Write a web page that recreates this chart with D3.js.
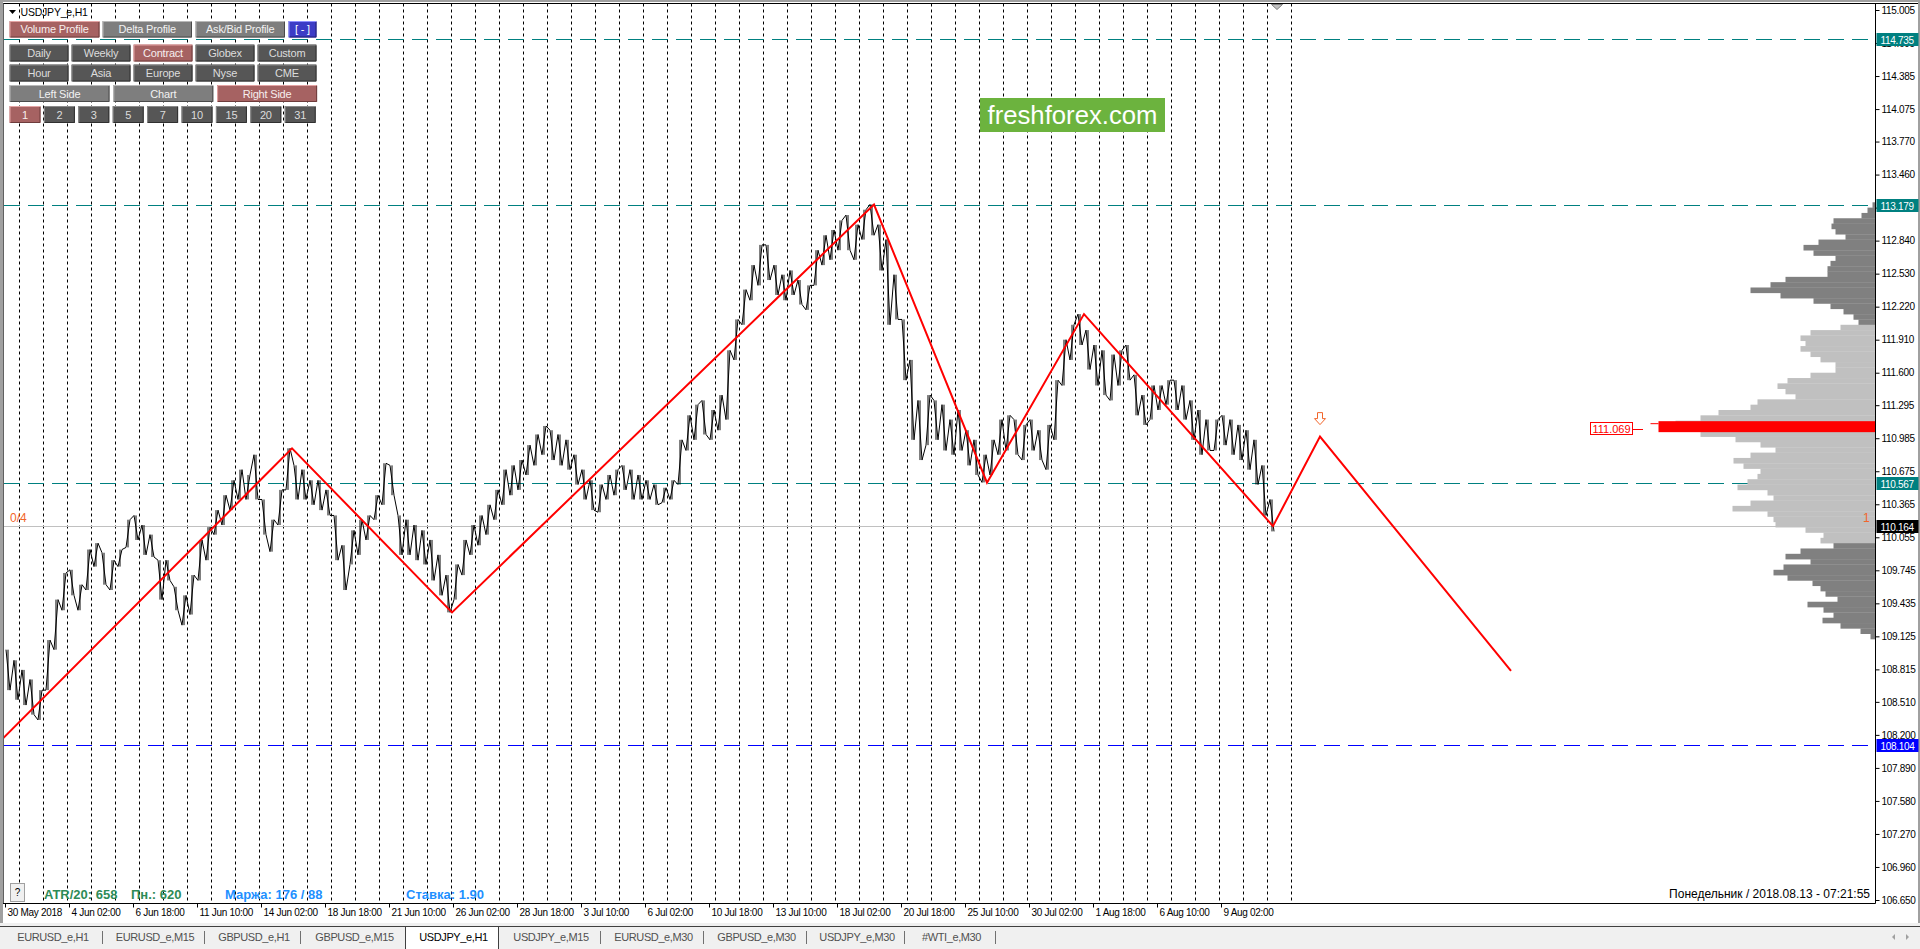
<!DOCTYPE html>
<html>
<head>
<meta charset="utf-8">
<script src="https://cdnjs.cloudflare.com/ajax/libs/d3/7.8.5/d3.min.js"></script>
<style>
html, body { margin: 0; padding: 0; background: #fff; overflow: hidden; }
svg { display: block; }
text { font-family: "Liberation Sans", Arial, sans-serif; }
</style>
</head>
<body>
<script>
// Donnees du graphique (USDJPY_e, H1)
var timeLabels = ['30 May 2018', '4 Jun 02:00', '6 Jun 18:00', '11 Jun 10:00', '14 Jun 02:00',
    '18 Jun 18:00', '21 Jun 10:00', '26 Jun 02:00', '28 Jun 18:00', '3 Jul 10:00',
    '6 Jul 02:00', '10 Jul 18:00', '13 Jul 10:00', '18 Jul 02:00', '20 Jul 18:00',
    '25 Jul 10:00', '30 Jul 02:00', '1 Aug 18:00', '6 Aug 10:00', '9 Aug 02:00']
var labelBars = [0, 64, 128, 192, 256, 320, 384, 448, 512, 576, 640, 704, 768, 832, 896, 960, 1024, 1088, 1152, 1216]

var priceTicks = [115.005, 114.695, 114.385, 114.075, 113.770, 113.460, 113.150, 112.840, 112.530,
    112.220, 111.910, 111.600, 111.295, 110.985, 110.675, 110.365, 110.055, 109.745, 109.435,
    109.125, 108.815, 108.510, 108.200, 107.890, 107.580, 107.270, 106.960, 106.650]

// hauts / bas par bloc de 8 barres H1
var blockSize = 8
var blockHighs = [
    109.00, 108.90, 108.81, 108.72, 108.62, 109.09, 109.47, 109.72, 109.75, 109.61,
    109.94, 110.00, 109.91, 109.84, 109.94, 110.22, 110.26, 110.17, 110.08, 109.84,
    109.84, 109.59, 109.51, 109.70, 110.03, 110.15, 110.31, 110.45, 110.59, 110.69,
    110.64, 110.83, 110.41, 110.22, 110.50, 110.89, 110.73, 110.69, 110.59, 110.59,
    110.50, 110.26, 109.98, 110.12, 110.22, 110.26, 110.45, 110.75, 110.73, 110.26,
    110.22, 110.17, 110.12, 110.03, 109.89, 109.70, 109.80, 110.03, 110.17, 110.26,
    110.36, 110.50, 110.69, 110.73, 110.78, 110.92, 111.02, 111.10, 111.06, 111.02,
    110.97, 110.83, 110.69, 110.59, 110.55, 110.64, 110.69, 110.73, 110.69, 110.64,
    110.59, 110.55, 110.52, 110.59, 110.97, 111.20, 111.30, 111.34, 111.25, 111.39,
    111.81, 112.10, 112.38, 112.61, 112.80, 112.80, 112.61, 112.52, 112.56, 112.47,
    112.42, 112.75, 112.89, 112.94, 113.03, 113.08, 112.99, 113.13, 113.18, 112.99,
    112.85, 112.52, 112.10, 111.72, 111.34, 111.39, 111.34, 111.30, 111.16, 111.25,
    111.06, 110.97, 110.83, 110.97, 111.16, 111.20, 111.16, 111.11, 111.16, 111.06,
    111.11, 111.53, 111.91, 112.05, 112.15, 112.00, 111.86, 111.81, 111.77, 111.81,
    111.86, 111.58, 111.39, 111.48, 111.48, 111.53, 111.53, 111.48, 111.34, 111.25,
    111.16, 111.16, 111.20, 111.16, 111.11, 111.06, 110.97, 110.73, 110.41]
var blockLows = [
    108.62, 108.53, 108.48, 108.39, 108.34, 108.62, 109.00, 109.37, 109.51, 109.37,
    109.56, 109.78, 109.61, 109.56, 109.78, 109.96, 110.03, 109.89, 109.87, 109.47,
    109.65, 109.37, 109.23, 109.33, 109.65, 109.84, 110.08, 110.17, 110.31, 110.41,
    110.41, 110.41, 110.08, 109.92, 110.17, 110.50, 110.41, 110.41, 110.36, 110.31,
    110.26, 109.84, 109.56, 109.80, 109.89, 110.03, 110.22, 110.36, 110.45, 109.89,
    109.89, 109.84, 109.80, 109.65, 109.51, 109.35, 109.47, 109.70, 109.89, 109.98,
    110.08, 110.22, 110.36, 110.45, 110.50, 110.64, 110.73, 110.83, 110.78, 110.73,
    110.69, 110.55, 110.41, 110.31, 110.29, 110.41, 110.45, 110.50, 110.41, 110.41,
    110.41, 110.36, 110.38, 110.41, 110.55, 110.87, 110.97, 111.02, 110.97, 111.06,
    111.16, 111.72, 112.05, 112.28, 112.42, 112.47, 112.33, 112.28, 112.33, 112.24,
    112.19, 112.42, 112.61, 112.66, 112.75, 112.75, 112.66, 112.85, 112.89, 112.56,
    112.05, 112.10, 111.53, 110.97, 110.78, 110.92, 110.97, 110.87, 110.83, 110.87,
    110.73, 110.64, 110.57, 110.64, 110.83, 110.87, 110.83, 110.78, 110.87, 110.78,
    110.69, 110.97, 111.48, 111.72, 111.86, 111.63, 111.48, 111.39, 111.34, 111.48,
    111.53, 111.20, 111.11, 111.16, 111.25, 111.30, 111.25, 111.16, 110.97, 110.83,
    110.87, 110.87, 110.92, 110.83, 110.78, 110.69, 110.55, 110.26, 110.11]
var lastBar = 1269

// zigzag rouge (barre, prix)
var zigBars = [-8, 287, 447, 869, 982, 1079, 1268, 1315, 1506]
var zigPrices = [108.11, 110.89, 109.35, 113.179, 110.567, 112.15, 110.16, 111.00, 108.80]

// niveaux horizontaux
var tealLevels = [114.735, 113.179, 110.567]
var blueLevel = 108.104
var bidPrice = 110.164

// profil de volume (lignes de 0.05 depuis 113.15)
var profileTop = 113.15
var profileStep = 0.05
var profileVolumes = [
    3, 8, 14, 42, 44, 40, 30, 57, 72, 62, 40, 45, 48, 48, 90, 105, 125, 95, 62, 45,
    32, 22, 17, 35, 65, 75, 70, 75, 65, 55, 40, 40, 65, 88, 98, 90, 80, 118, 125, 157,
    175, 200, 195, 175, 140, 115, 100, 125, 142, 132, 115, 118, 128, 138, 108, 102, 125, 143, 108, 102,
    100, 70, 52, 55, 42, 75, 90, 65, 92, 102, 88, 63, 55, 50, 38, 68, 52, 42, 53, 35,
    15, 5]
var valueAreaHigh = 112.057
var valueAreaLow = 110.004
var pocPrice = 111.069
var pocHigh = 111.145
var pocLow = 111.042
var pocVolume = 217

// boutons du panneau
var profileButtons = ['Volume Profile', 'Delta Profile', 'Ask/Bid Profile']
var periodButtons = ['Daily', 'Weekly', 'Contract', 'Globex', 'Custom']
var sessionButtons = ['Hour', 'Asia', 'Europe', 'Nyse', 'CME']
var sideButtons = ['Left Side', 'Chart', 'Right Side']
var countButtons = ['1', '2', '3', '5', '7', '10', '15', '20', '31']
var selectedButtons = ['Volume Profile', 'Contract', 'Right Side', '1']

var tabs = ['EURUSD_e,H1', 'EURUSD_e,M15', 'GBPUSD_e,H1', 'GBPUSD_e,M15', 'USDJPY_e,H1',
    'USDJPY_e,M15', 'EURUSD_e,M30', 'GBPUSD_e,M30', 'USDJPY_e,M30', '#WTI_e,M30']
var activeTab = 'USDJPY_e,H1'

var statusGreen = ['ATR/20: 658', 'Пн.: 620']
var statusBlue = ['Маржа: 176 / 88', 'Ставка: 1.90']
var serverTime = 'Понедельник / 2018.08.13 - 07:21:55'

// Couleurs et dimensions
var colours = {
    teal: '#008080',
    blue: '#0000ff',
    red: '#ff0000',
    orange: '#f2652a',
    bid: '#c0c0c0',
    dark: '#808080',
    light: '#c0c0c0',
    green: '#2e8b57',
    dodger: '#1e90ff'
}

var W = 1920
var H = 949
var plot = { left: 4, right: 1875.5, top: 3.5, bottom: 903.5 }

var x = d3.scaleLinear().domain([0, lastBar]).range([5, 5 + lastBar])
var y = d3.scaleLinear().domain([106.650, 115.005]).range([900, 10])
var xProfile = d3.scaleLinear().domain([0, pocVolume]).range([0, 217])

var svg = d3.select('body').append('svg')
    .attr('width', W)
    .attr('height', H)

svg.append('defs').append('clipPath').attr('id', 'plotClip')
    .append('rect')
    .attr('x', plot.left).attr('y', plot.top)
    .attr('width', plot.right - plot.left).attr('height', plot.bottom - plot.top)

// cadre de fenetre
svg.append('rect').attr('x', 0).attr('y', 0).attr('width', W).attr('height', 2).attr('fill', '#a0a0a0')
svg.append('rect').attr('x', 0).attr('y', 0).attr('width', 3).attr('height', 926).attr('fill', '#a0a0a0')
svg.append('rect').attr('x', 1918).attr('y', 0).attr('width', 2).attr('height', 926).attr('fill', '#a0a0a0')

var chart = svg.append('g').attr('clip-path', 'url(#plotClip)')

// separateurs de jours
var daySeparatorBars = d3.range(14, 1300, 24)
chart.selectAll('line.day').data(daySeparatorBars).join('line')
    .attr('class', 'day')
    .attr('x1', d => Math.round(x(d)) + 0.5)
    .attr('x2', d => Math.round(x(d)) + 0.5)
    .attr('y1', plot.top)
    .attr('y2', plot.bottom)
    .attr('stroke', '#000')
    .attr('stroke-width', 1)
    .attr('stroke-dasharray', '3,3')

// niveaux
chart.selectAll('line.teal').data(tealLevels).join('line')
    .attr('class', 'teal')
    .attr('x1', plot.left).attr('x2', plot.right)
    .attr('y1', d => Math.round(y(d)) + 0.5).attr('y2', d => Math.round(y(d)) + 0.5)
    .attr('stroke', colours.teal)
    .attr('stroke-dasharray', '16,8')

chart.append('line')
    .attr('x1', plot.left).attr('x2', plot.right)
    .attr('y1', Math.round(y(blueLevel)) + 0.5).attr('y2', Math.round(y(blueLevel)) + 0.5)
    .attr('stroke', colours.blue)
    .attr('stroke-dasharray', '16,8')

chart.append('line')
    .attr('x1', plot.left).attr('x2', plot.right)
    .attr('y1', Math.round(y(bidPrice)) + 0.5).attr('y2', Math.round(y(bidPrice)) + 0.5)
    .attr('stroke', colours.bid)

// profil de volume
var profileRows = profileVolumes.map((v, i) => ({ price: +(profileTop - i * profileStep).toFixed(2), vol: v }))
chart.selectAll('rect.vp').data(profileRows).join('rect')
    .attr('class', 'vp')
    .attr('x', d => plot.right - xProfile(d.vol))
    .attr('y', d => y(d.price + profileStep))
    .attr('width', d => xProfile(d.vol))
    .attr('height', d => y(d.price) - y(d.price + profileStep) + 0.3)
    .attr('fill', d => (d.price >= valueAreaHigh - 0.01 || d.price < valueAreaLow - 0.01) ? colours.dark : colours.light)

chart.append('rect')
    .attr('x', plot.right - xProfile(pocVolume))
    .attr('y', y(pocHigh))
    .attr('width', xProfile(pocVolume))
    .attr('height', y(pocLow) - y(pocHigh))
    .attr('fill', colours.red)
chart.append('line')
    .attr('x1', plot.right - xProfile(pocVolume) - 8).attr('x2', plot.right - xProfile(pocVolume))
    .attr('y1', y(pocHigh) + 2.5).attr('y2', y(pocHigh) + 2.5)
    .attr('stroke', colours.red)

// etiquette POC
var pocY = y(pocPrice)
chart.append('line')
    .attr('x1', 1633).attr('x2', 1643)
    .attr('y1', Math.round(pocY) + 0.5).attr('y2', Math.round(pocY) + 0.5)
    .attr('stroke', colours.red)
chart.append('rect')
    .attr('x', 1590.5).attr('y', Math.round(pocY) - 6.5)
    .attr('width', 42).attr('height', 12)
    .attr('fill', '#fff').attr('stroke', colours.red)
chart.append('text')
    .attr('x', 1611.5).attr('y', Math.round(pocY) + 4)
    .attr('text-anchor', 'middle')
    .attr('font-size', '11px')
    .attr('fill', colours.red)
    .text(pocPrice.toFixed(3))

// cours (barres H1 regroupees)
var pricePts = []
blockHighs.forEach((h, i) => {
    var l = blockLows[i]
    var mid = (h + l) / 2
    var prev = i ? (blockHighs[i - 1] + blockLows[i - 1]) / 2 : mid
    var next = i < blockHighs.length - 1 ? (blockHighs[i + 1] + blockLows[i + 1]) / 2 : mid
    var rising = next >= prev
    var b = i * blockSize
    pricePts.push([Math.min(b + 1, lastBar), rising ? l : h], [Math.min(b + 5, lastBar), rising ? h : l])
})

chart.selectAll('line.bar').data(blockHighs).join('line')
    .attr('class', 'bar')
    .attr('x1', (d, i) => x(Math.min(i * blockSize + 3, lastBar)))
    .attr('x2', (d, i) => x(Math.min(i * blockSize + 3, lastBar)))
    .attr('y1', d => y(d))
    .attr('y2', (d, i) => y(blockLows[i]))
    .attr('stroke', '#000')
    .attr('stroke-width', 1)

chart.append('path')
    .attr('d', d3.line().x(d => x(d[0])).y(d => y(d[1]))(pricePts))
    .attr('fill', 'none')
    .attr('stroke', '#000')
    .attr('stroke-width', 1)

// zigzag
var zig = zigBars.map((b, i) => [b, zigPrices[i]])
chart.append('path')
    .attr('d', d3.line().x(d => x(d[0])).y(d => y(d[1]))(zig))
    .attr('fill', 'none')
    .attr('stroke', colours.red)
    .attr('stroke-width', 2)

// fleche au-dessus du prochain sommet
var ax = x(zigBars[7])
var ay = y(zigPrices[7]) - 24
chart.append('path')
    .attr('d', `M${ax - 2.5},${ay} h5 v6 h3 l-5.5,6 l-5.5,-6 h3 z`)
    .attr('fill', '#fff')
    .attr('stroke', colours.orange)
    .attr('stroke-width', 1)

// textes orange
chart.append('text').attr('x', 10).attr('y', y(bidPrice) - 4)
    .attr('font-size', '12px').attr('fill', colours.orange).text('0/4')
chart.append('text').attr('x', 1863).attr('y', y(bidPrice) - 4)
    .attr('font-size', '12px').attr('fill', colours.orange).text('1')

// logo
svg.append('rect').attr('x', 980).attr('y', 98).attr('width', 185).attr('height', 34).attr('fill', '#6cb33e')
svg.append('text').attr('x', 1072.5).attr('y', 124)
    .attr('text-anchor', 'middle')
    .attr('font-family', '"Open Sans", "Liberation Sans", sans-serif')
    .attr('font-size', '25px')
    .attr('textLength', 170)
    .attr('lengthAdjust', 'spacingAndGlyphs')
    .attr('fill', '#fff')
    .text('freshforex.com')

// marqueur de decalage
svg.append('path').attr('d', 'M1271.5,4.5 h11 l-5.5,5 z').attr('fill', '#c0c0c0').attr('stroke', '#808080')

// cadre du graphique
svg.append('line').attr('x1', 3).attr('x2', 1918).attr('y1', plot.top).attr('y2', plot.top).attr('stroke', '#000')
svg.append('line').attr('x1', 3.5).attr('x2', 3.5).attr('y1', plot.top).attr('y2', plot.bottom).attr('stroke', '#606060')
svg.append('line').attr('x1', 3).attr('x2', plot.right).attr('y1', plot.bottom).attr('y2', plot.bottom).attr('stroke', '#000')
svg.append('line').attr('x1', plot.right).attr('x2', plot.right).attr('y1', plot.top).attr('y2', plot.bottom).attr('stroke', '#000')

// axe des prix
var yAxis = svg.append('g')
    .attr('transform', `translate(${plot.right},0)`)
    .call(d3.axisRight(y).tickValues(priceTicks).tickSize(4).tickFormat(d3.format('.3f')))
yAxis.select('.domain').remove()
yAxis.selectAll('line').attr('stroke', '#000')
yAxis.selectAll('text')
    .attr('x', 6)
    .attr('fill', '#000')
    .attr('font-family', '"Liberation Sans", Arial, sans-serif')
    .attr('font-size', '10px')
    .attr('letter-spacing', '-0.3px')

var priceBoxes = tealLevels.map(v => ({ v: v, fill: colours.teal }))
    .concat([{ v: bidPrice, fill: '#000' }, { v: blueLevel, fill: colours.blue }])
var boxG = svg.selectAll('g.pbox').data(priceBoxes).join('g').attr('class', 'pbox')
boxG.append('rect')
    .attr('x', plot.right + 1)
    .attr('y', d => Math.round(y(d.v)) - 6)
    .attr('width', 42)
    .attr('height', 13)
    .attr('fill', d => d.fill)
boxG.append('text')
    .attr('x', plot.right + 5)
    .attr('y', d => Math.round(y(d.v)) + 4.5)
    .attr('fill', '#fff')
    .attr('font-size', '10px')
    .attr('letter-spacing', '-0.3px')
    .text(d => d.v.toFixed(3))

// axe du temps
var xAxis = svg.append('g')
    .attr('transform', `translate(0,${plot.bottom})`)
    .call(d3.axisBottom(x).tickValues(labelBars).tickSize(4).tickFormat((d, i) => timeLabels[i]))
xAxis.select('.domain').remove()
xAxis.selectAll('line').attr('stroke', '#000')
xAxis.selectAll('text')
    .attr('text-anchor', 'start')
    .attr('x', 2)
    .attr('y', 5)
    .attr('fill', '#000')
    .attr('font-family', '"Liberation Sans", Arial, sans-serif')
    .attr('font-size', '10px')
    .attr('letter-spacing', '-0.3px')

// titre et panneau de boutons
svg.append('path').attr('d', 'M9,10 h7 l-3.5,4 z').attr('fill', '#000')
svg.append('text').attr('x', 20.5).attr('y', 16)
    .attr('font-size', '10.5px').attr('fill', '#000').attr('letter-spacing', '-0.2px')
    .text('USDJPY_e,H1')

var styles = {
    selected: { fill: '#a66262', light: '#e4a4a4', dark: '#6e3c3c', text: '#f6eeee' },
    grey: { fill: '#7e7e7e', light: '#b8b8b8', dark: '#4a4a4a', text: '#f2f2f2' },
    darkGrey: { fill: '#565656', light: '#8a8a8a', dark: '#303030', text: '#dcdcdc' },
    blue: { fill: '#3c3cc6', light: '#9090ff', dark: '#202070', text: '#ffffff' }
}

function bevelButton(bx, by, bw, bh, label, style) {
    var g = svg.append('g')
    g.append('rect').attr('x', bx).attr('y', by).attr('width', bw).attr('height', bh).attr('fill', style.fill)
    g.append('path')
        .attr('d', `M${bx + 0.5},${by + bh - 0.5}V${by + 0.5}H${bx + bw - 0.5}`)
        .attr('fill', 'none').attr('stroke', style.light)
    g.append('path')
        .attr('d', `M${bx + bw - 0.5},${by + 1}V${by + bh - 0.5}H${bx + 1}`)
        .attr('fill', 'none').attr('stroke', style.dark)
    g.append('text')
        .attr('x', bx + bw / 2)
        .attr('y', by + bh / 2 + 4)
        .attr('text-anchor', 'middle')
        .attr('font-size', '11px')
        .attr('letter-spacing', '-0.2px')
        .attr('fill', style.text)
        .text(label)
}

function pick(label, normal) {
    return selectedButtons.indexOf(label) >= 0 ? styles.selected : normal
}

var row1X = [9.5, 102.5, 195.5]
profileButtons.forEach((b, i) => bevelButton(row1X[i], 21, i ? 89.5 : 90, 16.5, b, pick(b, styles.grey)))
bevelButton(288.5, 21, 28, 16.5, '[ - ]', styles.blue)
periodButtons.forEach((b, i) => bevelButton(9.5 + 62 * i, 44.5, 59, 17, b, pick(b, styles.darkGrey)))
sessionButtons.forEach((b, i) => bevelButton(9.5 + 62 * i, 64.5, 59, 17, b, pick(b, styles.darkGrey)))
sideButtons.forEach((b, i) => bevelButton(9.5 + 103.8 * i, 85, 100, 17, b, pick(b, styles.grey)))
countButtons.forEach((b, i) => bevelButton(9.5 + 34.4 * i, 106, 31, 17, b, pick(b, styles.darkGrey)))

// barre d'etat
svg.append('rect').attr('x', 10.5).attr('y', 883.5).attr('width', 14).attr('height', 18)
    .attr('fill', '#f0f0f0').attr('stroke', '#a0a0a0')
svg.append('text').attr('x', 17.5).attr('y', 896).attr('text-anchor', 'middle')
    .attr('font-size', '10px').attr('fill', '#000').text('?')

var statusX = [44, 131]
statusGreen.forEach((t, i) => svg.append('text')
    .attr('x', statusX[i]).attr('y', 898.5)
    .attr('font-size', '13px').attr('font-weight', 'bold')
    .attr('fill', colours.green).text(t))
var statusBX = [225, 406]
statusBlue.forEach((t, i) => svg.append('text')
    .attr('x', statusBX[i]).attr('y', 898.5)
    .attr('font-size', '13px').attr('font-weight', 'bold')
    .attr('fill', colours.dodger).text(t))

svg.append('text').attr('x', 1870).attr('y', 898)
    .attr('text-anchor', 'end').attr('font-size', '12px').attr('fill', '#000')
    .text(serverTime)

// onglets
svg.append('rect').attr('x', 0).attr('y', 923).attr('width', W).attr('height', 26).attr('fill', '#f0f0f0')
svg.append('line').attr('x1', 0).attr('x2', W).attr('y1', 926.5).attr('y2', 926.5).attr('stroke', '#404040')
var tabEdges = [0, 102, 204, 300, 405, 498, 600, 703, 806, 904, 995]
tabs.forEach((t, i) => {
    var x0 = tabEdges[i]
    var x1 = tabEdges[i + 1]
    if (t === activeTab) {
        svg.append('rect').attr('x', x0 + 0.5).attr('y', 926.5).attr('width', x1 - x0).attr('height', 23)
            .attr('fill', '#fff').attr('stroke', '#404040')
    }
    svg.append('text')
        .attr('x', (x0 + x1) / 2 + 2).attr('y', 941)
        .attr('text-anchor', 'middle')
        .attr('font-size', '11px')
        .attr('letter-spacing', '-0.4px')
        .attr('fill', t === activeTab ? '#000' : '#505050')
        .text(t)
    if (t !== activeTab && tabs[i + 1] !== activeTab) {
        svg.append('line').attr('x1', x1 + 0.5).attr('x2', x1 + 0.5).attr('y1', 931).attr('y2', 944)
            .attr('stroke', '#707070')
    }
})
svg.append('path').attr('d', 'M1892,937 l3,-3 v6 z').attr('fill', '#a0a0a0')
svg.append('path').attr('d', 'M1906,934 l3,3 l-3,3 z').attr('fill', '#a0a0a0')
</script>
</body>
</html>
